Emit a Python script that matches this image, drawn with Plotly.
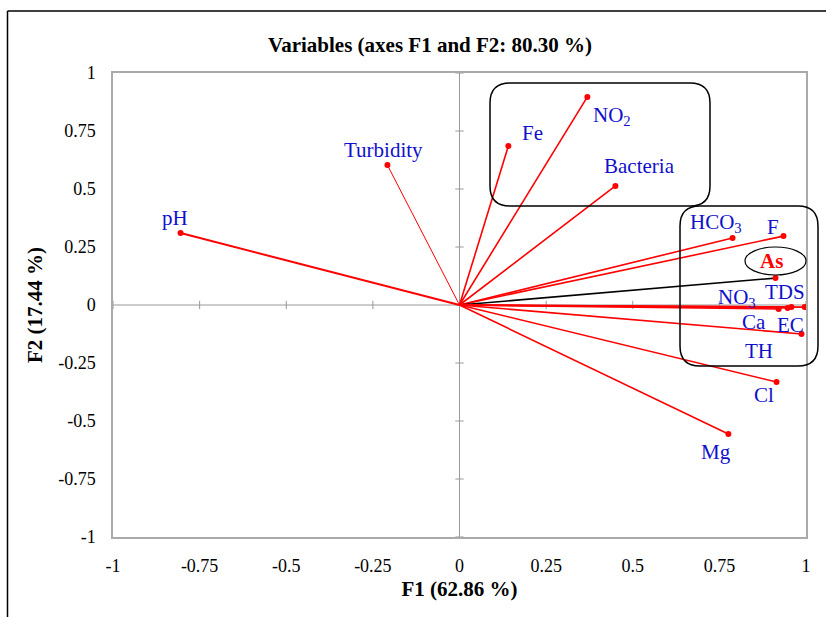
import plotly.graph_objects as go

# ---- data ----
variables = ["pH", "Turbidity", "Fe", "NO2", "Bacteria", "HCO3", "F", "As",
             "NO3", "Ca", "TDS", "EC", "TH", "Cl", "Mg"]
f1 = [-0.805, -0.208, 0.141, 0.369, 0.450, 0.788, 0.935, 0.912,
      0.921, 0.947, 0.958, 0.996, 0.987, 0.915, 0.776]
f2 = [0.310, 0.603, 0.685, 0.897, 0.513, 0.289, 0.297, 0.116,
      -0.017, -0.013, -0.009, -0.009, -0.125, -0.332, -0.556]
label_text = ["pH", "Turbidity", "Fe", "NO<sub>2</sub>", "Bacteria", "HCO<sub>3</sub>", "F", "<b>As</b>",
              "NO<sub>3</sub>", "Ca", "TDS", "EC", "TH", "Cl", "Mg"]
# label positions (F1, F2)
label_x = [-0.82, -0.22, 0.21, 0.44, 0.52, 0.74, 0.905, 0.90,
           0.80, 0.85, 0.94, 0.955, 0.865, 0.88, 0.74]
label_y = [0.375, 0.67, 0.74, 0.815, 0.60, 0.355, 0.335, 0.19,
           0.03, -0.075, 0.055, -0.085, -0.20, -0.39, -0.635]
ticks = [-1, -0.75, -0.5, -0.25, 0, 0.25, 0.5, 0.75, 1]
tick_text = ["-1", "-0.75", "-0.5", "-0.25", "0", "0.25", "0.5", "0.75", "1"]

W, H = 826, 617
L, R, T, B = 113, 806, 73, 537

def px(x):  # pixel -> paper x
    return (x - L) / (R - L)

def py(y):  # pixel -> paper y
    return (B - y) / (B - T)

fig = go.Figure()

# zero axes with crossing tick marks
gray = "#999999"
fig.add_trace(go.Scatter(x=[-1, 1], y=[0, 0], mode="lines", line=dict(color=gray, width=1),
                         hoverinfo="skip", showlegend=False))
fig.add_trace(go.Scatter(x=[0, 0], y=[-1, 1], mode="lines", line=dict(color=gray, width=1),
                         hoverinfo="skip", showlegend=False))
tx, ty = [], []
for t in ticks:
    tx += [t, t, None]
    ty += [-0.018, 0.018, None]
fig.add_trace(go.Scatter(x=tx, y=ty, mode="lines", line=dict(color=gray, width=1),
                         hoverinfo="skip", showlegend=False))
tx, ty = [], []
for t in ticks:
    tx += [-0.012, 0.012, None]
    ty += [t, t, None]
fig.add_trace(go.Scatter(x=tx, y=ty, mode="lines", line=dict(color=gray, width=1),
                         hoverinfo="skip", showlegend=False))

# vectors
for name, x, y in zip(variables, f1, f2):
    color = "black" if name == "As" else "red"
    width = 1 if name == "Turbidity" else (2 if name == "pH" else 1.6)
    fig.add_trace(go.Scatter(x=[0, x], y=[0, y], mode="lines",
                             line=dict(color=color, width=width),
                             hoverinfo="skip", showlegend=False))
fig.add_trace(go.Scatter(x=f1, y=f2, mode="markers", marker=dict(color="red", size=6),
                         hovertext=variables, showlegend=False))

# labels
for name, txt, x, y in zip(variables, label_text, label_x, label_y):
    fig.add_annotation(x=x, y=y, text=txt, showarrow=False,
                       font=dict(family="Liberation Serif", size=21,
                                 color="red" if name == "As" else "#1010CC"))

# rounded rectangles (pixel geometry -> paper)
def rounded(x0, y0, x1, y1, r):
    p = [f"M {px(x0 + r)} {py(y0)}", f"L {px(x1 - r)} {py(y0)}",
         f"Q {px(x1)} {py(y0)} {px(x1)} {py(y0 + r)}", f"L {px(x1)} {py(y1 - r)}",
         f"Q {px(x1)} {py(y1)} {px(x1 - r)} {py(y1)}", f"L {px(x0 + r)} {py(y1)}",
         f"Q {px(x0)} {py(y1)} {px(x0)} {py(y1 - r)}", f"L {px(x0)} {py(y0 + r)}",
         f"Q {px(x0)} {py(y0)} {px(x0 + r)} {py(y0)}", "Z"]
    return " ".join(p)

fig.add_shape(type="path", xref="paper", yref="paper", path=rounded(490, 83, 710, 206, 20),
              line=dict(color="black", width=1.5))
fig.add_shape(type="path", xref="paper", yref="paper", path=rounded(680, 206, 818, 366, 20),
              line=dict(color="black", width=1.5))
fig.add_shape(type="circle", xref="paper", yref="paper",
              x0=px(745), x1=px(806), y0=py(275), y1=py(247),
              line=dict(color="black", width=1.2))

# outer frame
fig.add_shape(type="line", xref="paper", yref="paper", x0=px(7.5), x1=px(826), y0=py(11), y1=py(11),
              line=dict(color="black", width=1.5))
fig.add_shape(type="line", xref="paper", yref="paper", x0=px(7.5), x1=px(7.5), y0=py(11), y1=py(617),
              line=dict(color="black", width=1.5))

fig.update_layout(
    width=W, height=H,
    margin=dict(l=L, r=W - R, t=T, b=H - B),
    paper_bgcolor="white", plot_bgcolor="white",
    font=dict(family="Liberation Serif", size=18, color="black"),
    title=dict(text="<b>Variables (axes F1 and F2: 80.30 %)</b>", x=430 / W, xanchor="center",
               y=1 - 45 / H, yanchor="middle", font=dict(size=21)),
    xaxis=dict(range=[-1, 1], tickvals=ticks, ticktext=tick_text, showgrid=False, zeroline=False,
               showline=True, mirror=True, linecolor="#aaaaaa", linewidth=1.5, ticks="",
               ticklabelstandoff=12,
               title=dict(text="<b>F1 (62.86 %)</b>", standoff=6, font=dict(size=21))),
    yaxis=dict(range=[-1, 1], tickvals=ticks, ticktext=tick_text, showgrid=False, zeroline=False,
               showline=True, mirror=True, linecolor="#aaaaaa", linewidth=1.5, ticks="",
               ticklabelstandoff=12,
               title=dict(text="<b>F2 (17.44 %)</b>", standoff=10, font=dict(size=21))),
)

fig.write_html("out.html", config={"displayModeBar": False},
               post_script="document.body.style.margin='0';")
